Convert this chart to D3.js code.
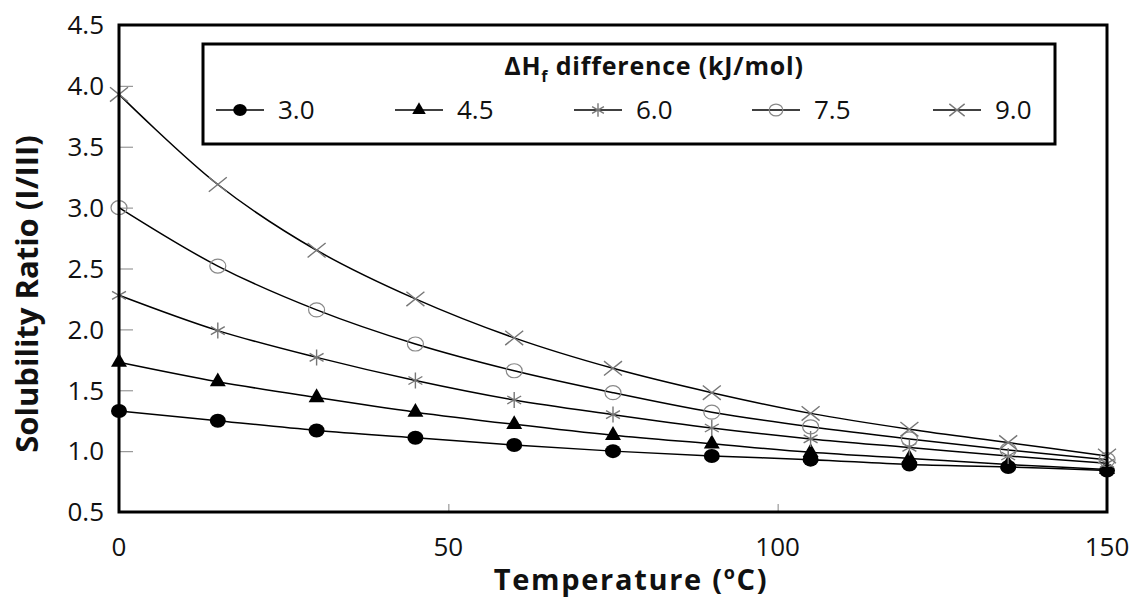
<!DOCTYPE html>
<html>
<head>
<meta charset="utf-8">
<script src="https://cdn.jsdelivr.net/npm/d3@7/dist/d3.min.js"></script>
<style>
  body { margin: 0; background: #fff; }
  text { font-family: "Open Sans", "Noto Sans", sans-serif; fill: #111; }
</style>
</head>
<body>
<div id="chart"></div>
<script>

// temperatures (C) and solubility ratio I/III for each dHf difference
var temps = [0, 15, 30, 45, 60, 75, 90, 105, 120, 135, 150];
var seriesNames = ["3.0", "4.5", "6.0", "7.5", "9.0"];
var ratio30 = [1.33, 1.25, 1.17, 1.11, 1.05, 1.00, 0.96, 0.93, 0.89, 0.87, 0.84];
var ratio45 = [1.73, 1.57, 1.44, 1.32, 1.22, 1.13, 1.06, 0.99, 0.94, 0.89, 0.85];
var ratio60 = [2.28, 1.99, 1.77, 1.58, 1.42, 1.30, 1.19, 1.10, 1.03, 0.96, 0.90];
var ratio75 = [3.00, 2.52, 2.16, 1.88, 1.66, 1.48, 1.32, 1.20, 1.10, 1.01, 0.93];
var ratio90 = [3.93, 3.19, 2.65, 2.25, 1.93, 1.68, 1.48, 1.31, 1.18, 1.07, 0.96];
var yTicks = [0.5, 1.0, 1.5, 2.0, 2.5, 3.0, 3.5, 4.0, 4.5];
var xTicks = [0, 50, 100, 150];

var allSeries = [ratio30, ratio45, ratio60, ratio75, ratio90];
var markers = ["dot", "triangle", "star", "circle", "cross"];

var margin = { left: 119, right: 24, top: 25, bottom: 87 };
var W = 1131, H = 599;
var width = W - margin.left - margin.right;
var height = H - margin.top - margin.bottom;

var svg = d3.select("#chart").append("svg")
  .attr("width", W).attr("height", H)
  .append("g")
  .attr("transform", "translate(" + margin.left + "," + margin.top + ")");

var x = d3.scaleLinear().domain([0, 150]).range([0, width]);
var y = d3.scaleLinear().domain([0.5, 4.5]).range([height, 0]);

// inner tick marks
var yAxis = d3.axisRight(y).tickValues(yTicks.slice(1, -1)).tickSize(14).tickFormat("");
var xAxis = d3.axisTop(x).tickValues(xTicks.slice(1, -1)).tickSize(8).tickFormat("");

svg.append("g").attr("class", "ytick").call(yAxis);
svg.append("g").attr("class", "xtick").attr("transform", "translate(0," + height + ")").call(xAxis);
svg.selectAll(".ytick .domain, .xtick .domain").remove();
svg.selectAll(".ytick line, .xtick line").attr("stroke", "#999").attr("stroke-width", 1.2);

// tick labels
svg.selectAll(".ylab").data(yTicks).enter().append("text")
  .attr("x", -15).attr("y", function(d) { return y(d); })
  .attr("dy", "0.36em")
  .style("text-anchor", "end").style("font-size", "26px")
  .text(function(d) { return d.toFixed(1); });

svg.selectAll(".xlab").data(xTicks).enter().append("text")
  .attr("x", function(d) { return x(d); }).attr("y", height + 44)
  .style("text-anchor", "middle").style("font-size", "26px")
  .text(function(d) { return d; });

// axis titles
svg.append("text")
  .attr("transform", "rotate(-90)")
  .attr("x", -(294 - margin.top)).attr("y", 38 - margin.left)
  .style("text-anchor", "middle").style("font-size", "31px").style("font-weight", "bold")
  .text("Solubility Ratio (I/III)");

var xt = svg.append("text")
  .attr("x", 631 - margin.left).attr("y", height + 78)
  .style("text-anchor", "middle").style("font-size", "29px").style("font-weight", "bold")
  .style("letter-spacing", "1.7px");
xt.append("tspan").text("Temperature (");
xt.append("tspan").attr("dy", -11).style("font-size", "18px").text("o");
xt.append("tspan").attr("dy", 11).text("C)");

// marker drawing
function drawMarker(g, type, size) {
  var s = size || 1;
  if (type === "dot") {
    g.append("ellipse").attr("rx", 8 * s).attr("ry", 7 * s).attr("fill", "#000");
  } else if (type === "triangle") {
    g.append("path").attr("d", d3.symbol().type(d3.symbolTriangle).size(110 * s * s)).attr("fill", "#000");
  } else if (type === "star") {
    var r = 8 * s;
    g.append("path")
      .attr("d", "M0," + (-r) + "L0," + r +
        "M" + (-r * 0.87) + "," + (-r * 0.5) + "L" + (r * 0.87) + "," + (r * 0.5) +
        "M" + (-r * 0.87) + "," + (r * 0.5) + "L" + (r * 0.87) + "," + (-r * 0.5))
      .attr("stroke", "#777").attr("stroke-width", 1.4).attr("fill", "none");
  } else if (type === "circle") {
    g.append("ellipse").attr("rx", 8 * s).attr("ry", 7 * s)
      .attr("fill", "none").attr("stroke", "#888").attr("stroke-width", 1.2);
  } else if (type === "cross") {
    var c = 9 * s;
    g.append("path")
      .attr("d", "M" + (-c) + "," + (-c * 0.8) + "L" + c + "," + (c * 0.8) +
        "M" + (-c) + "," + (c * 0.8) + "L" + c + "," + (-c * 0.8))
      .attr("stroke", "#777").attr("stroke-width", 1.4).attr("fill", "none");
  }
}

var line = d3.line()
  .x(function(d, i) { return x(temps[i]); })
  .y(function(d) { return y(d); })
  .curve(d3.curveCatmullRom.alpha(0.5));

allSeries.forEach(function(vals, k) {
  svg.append("path").datum(vals)
    .attr("d", line)
    .attr("fill", "none").attr("stroke", "#000").attr("stroke-width", 1.5);
});

allSeries.forEach(function(vals, k) {
  vals.forEach(function(v, i) {
    var g = svg.append("g").attr("transform", "translate(" + x(temps[i]) + "," + y(v) + ")");
    drawMarker(g, markers[k]);
  });
});

// frame
svg.append("rect").attr("x", 0).attr("y", 0).attr("width", width).attr("height", height)
  .attr("fill", "none").attr("stroke", "#000").attr("stroke-width", 3);

// legend
var lg = svg.append("g").attr("transform", "translate(" + (203 - margin.left) + "," + (44 - margin.top) + ")");
lg.append("rect").attr("width", 852).attr("height", 100)
  .attr("fill", "#fff").attr("stroke", "#000").attr("stroke-width", 3);

var lt = lg.append("text").attr("x", 451).attr("y", 31)
  .style("text-anchor", "middle").style("font-size", "25px").style("font-weight", "bold")
  .style("letter-spacing", "0.8px");
lt.append("tspan").text("\u0394H");
lt.append("tspan").attr("dy", 7).style("font-size", "16px").text("f");
lt.append("tspan").attr("dy", -7).text(" difference (kJ/mol)");

var legX = [13, 192, 371, 549, 730];
seriesNames.forEach(function(name, k) {
  var item = lg.append("g").attr("transform", "translate(" + legX[k] + ",66)");
  item.append("line").attr("x1", 0).attr("x2", 48).attr("stroke", "#000").attr("stroke-width", 1.5);
  var mg = item.append("g").attr("transform", "translate(24,0)");
  drawMarker(mg, markers[k], 0.85);
  item.append("text").attr("x", 62).attr("dy", "0.36em")
    .style("font-size", "26px").text(name);
});

</script>
</body>
</html>
